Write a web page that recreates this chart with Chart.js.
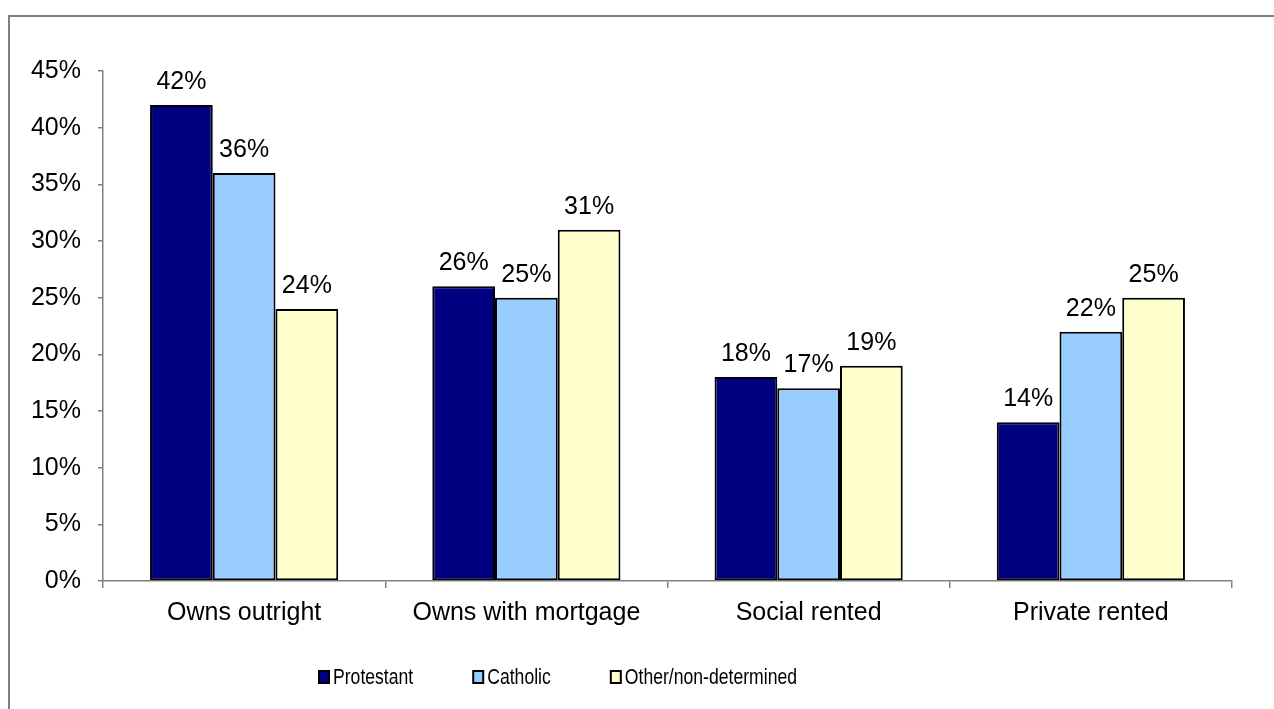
<!DOCTYPE html>
<html>
<head>
<meta charset="utf-8">
<title>Housing tenure by community background</title>
<script src="https://cdn.jsdelivr.net/npm/chart.js@4.4.1/dist/chart.umd.min.js"></script>
<style>
  html, body { margin: 0; padding: 0; background: #ffffff; }
  #wrap { width: 1274px; height: 709px; position: relative; }
  canvas { display: block; }
</style>
</head>
<body>
<div id="wrap"><canvas id="c" width="1274" height="709"></canvas></div>
<script>
// Tenure categories and the share of each community group in them (%)
const categories = ['Owns outright', 'Owns with mortgage', 'Social rented', 'Private rented'];
const seriesNames = ['Protestant', 'Catholic', 'Other/non-determined'];
const protestant = [42, 26, 18, 14];
const catholic = [36, 25, 17, 22];
const otherNonDetermined = [24, 31, 19, 25];
const yTickMax = 45;
const yTickStep = 5;

const FONT = '"Liberation Sans", Arial, Helvetica, sans-serif';
const colours = ['#000080', '#99CCFF', '#FFFFCC'];

// Outer chart frame (grey line along the top and left edges)
const framePlugin = {
  id: 'frame',
  beforeDraw(chart) {
    const ctx = chart.ctx;
    ctx.save();
    ctx.fillStyle = '#ffffff';
    ctx.fillRect(0, 0, chart.width, chart.height);
    ctx.strokeStyle = '#808080';
    ctx.lineWidth = 2;
    ctx.strokeRect(9, 16, chart.width + 20, chart.height + 20);
    ctx.restore();
  }
};

// Percentage labels above each bar
const valueLabelPlugin = {
  id: 'valueLabels',
  afterDatasetsDraw(chart) {
    const ctx = chart.ctx;
    ctx.save();
    ctx.font = '25px ' + FONT;
    ctx.fillStyle = '#000000';
    ctx.textAlign = 'center';
    ctx.textBaseline = 'alphabetic';
    chart.data.datasets.forEach((ds, i) => {
      const meta = chart.getDatasetMeta(i);
      meta.data.forEach((bar, j) => {
        ctx.fillText(ds.data[j] + '%', bar.x, bar.y - 16);
      });
    });
    ctx.restore();
  }
};

// Legend row underneath the category labels (narrow lettering)
const legendPlugin = {
  id: 'bottomLegend',
  afterDraw(chart) {
    const ctx = chart.ctx;
    const sx = 0.8;
    ctx.save();
    ctx.font = '22px ' + FONT;
    ctx.textBaseline = 'middle';
    ctx.textAlign = 'left';
    let x = 319;
    const cy = 677;
    chart.data.datasets.forEach((ds) => {
      ctx.fillStyle = ds.backgroundColor;
      ctx.fillRect(x, cy - 6, 10, 12);
      ctx.strokeStyle = '#000000';
      ctx.lineWidth = 2;
      ctx.strokeRect(x, cy - 6, 10, 12);
      ctx.fillStyle = '#000000';
      const tx = x + 14;
      ctx.save();
      ctx.translate(tx, cy + 1);
      ctx.scale(sx, 1);
      ctx.fillText(ds.label, 0, 0);
      ctx.restore();
      x = tx + ctx.measureText(ds.label).width * sx + 60;
    });
    ctx.restore();
  }
};

new Chart(document.getElementById('c'), {
  type: 'bar',
  data: {
    labels: categories,
    datasets: [
      { label: seriesNames[0], data: protestant, backgroundColor: colours[0] },
      { label: seriesNames[1], data: catholic, backgroundColor: colours[1] },
      { label: seriesNames[2], data: otherNonDetermined, backgroundColor: colours[2] }
    ].map(d => Object.assign(d, {
      borderColor: '#000000',
      borderWidth: 2,
      borderSkipped: false,
      categoryPercentage: 3 / 4.5,
      barPercentage: 1
    }))
  },
  options: {
    responsive: false,
    animation: false,
    devicePixelRatio: 1,
    layout: { padding: { left: 0, right: 42, top: 71, bottom: 0 } },
    plugins: {
      legend: { display: false },
      tooltip: { enabled: false }
    },
    scales: {
      x: {
        offset: true,
        grid: {
          display: true,
          offset: true,
          drawOnChartArea: false,
          drawTicks: true,
          tickLength: 7,
          color: '#808080',
          lineWidth: 1.5
        },
        border: { display: true, color: '#808080', width: 1.5 },
        ticks: {
          color: '#000000',
          font: { family: FONT, size: 25 },
          padding: 10,
          maxRotation: 0,
          autoSkip: false
        },
        afterFit(scale) { scale.height = 128; }
      },
      y: {
        min: 0,
        max: yTickMax,
        grid: {
          display: true,
          drawOnChartArea: false,
          drawTicks: true,
          tickLength: 5,
          color: '#808080',
          lineWidth: 1.5
        },
        border: { display: true, color: '#808080', width: 1.5 },
        ticks: {
          stepSize: yTickStep,
          color: '#000000',
          font: { family: FONT, size: 25 },
          padding: 17,
          callback: v => v + '%'
        },
        afterFit(scale) { scale.width = 103; }
      }
    }
  },
  plugins: [framePlugin, valueLabelPlugin, legendPlugin]
});
</script>
</body>
</html>
